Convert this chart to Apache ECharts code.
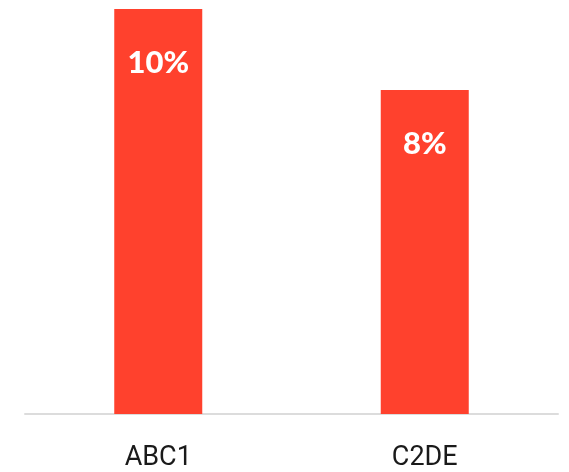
<!DOCTYPE html>
<html>
<head>
<meta charset="utf-8">
<script src="https://cdn.jsdelivr.net/npm/echarts@6/dist/echarts.min.js"></script>
<style>
  html, body { margin: 0; padding: 0; background: #fff; }
  #chart { width: 569px; height: 472px; }
</style>
</head>
<body>
<div id="chart"></div>
<script>
// Share by social grade
const categories = ['ABC1', 'C2DE'];
const shares = [10, 8];

const chart = echarts.init(document.getElementById('chart'), null, { renderer: 'canvas' });
chart.setOption({
  animation: false,
  grid: { left: 25, right: 11, top: 9, bottom: 58, containLabel: false },
  xAxis: {
    type: 'category',
    data: categories,
    axisLine: { lineStyle: { color: '#dcdcdc', width: 2 } },
    axisTick: { show: false },
    axisLabel: {
      color: '#1a1a1a',
      fontFamily: 'Roboto',
      fontSize: 27,
      margin: 31
    }
  },
  yAxis: {
    type: 'value',
    min: 0,
    max: 10,
    show: false,
    splitLine: { show: false }
  },
  series: [{
    type: 'bar',
    data: shares,
    barWidth: 88,
    itemStyle: { color: '#ff412d' },
    label: {
      show: true,
      position: 'insideTop',
      distance: 38,
      formatter: p => p.value + '%',
      color: '#ffffff',
      fontFamily: 'Lato',
      fontWeight: 900,
      fontSize: 31
    }
  }]
});
</script>
</body>
</html>
